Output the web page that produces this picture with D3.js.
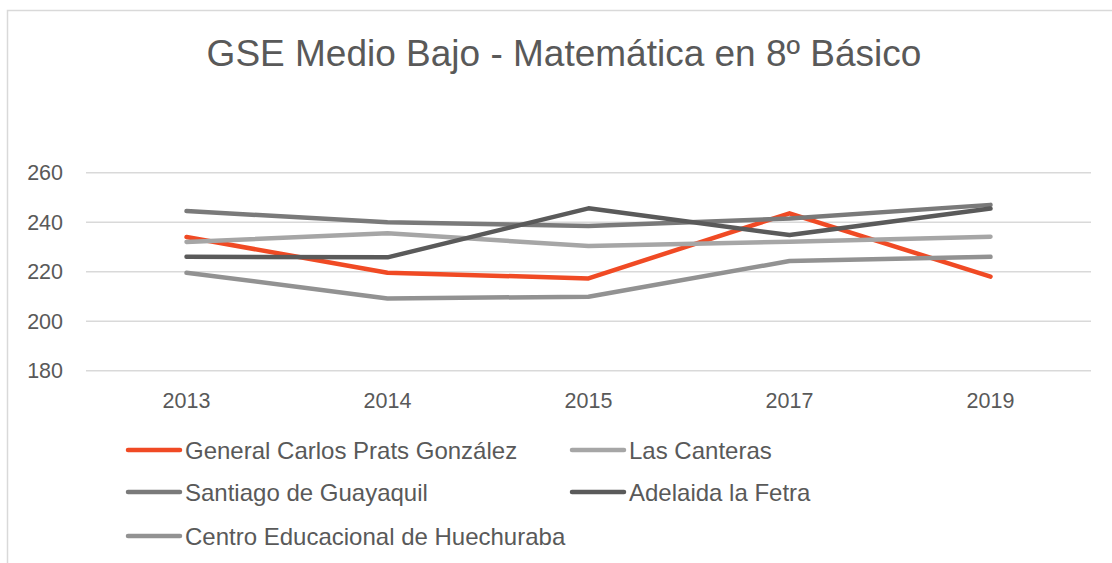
<!DOCTYPE html>
<html><head><meta charset="utf-8">
<script src="https://cdn.jsdelivr.net/npm/d3@7"></script>
<style>body{margin:0;background:#fff}svg{display:block}text{font-family:"Liberation Sans",Arial,sans-serif;fill:#595959}</style>
</head><body>
<svg id="c" width="1112" height="563"></svg>
<script>
const categories = ["2013","2014","2015","2017","2019"];
const seriesNames = ["General Carlos Prats González","Las Canteras","Santiago de Guayaquil","Adelaida la Fetra","Centro Educacional de Huechuraba"];
const generalCarlos = [234, 219.6, 217.3, 243.6, 218];
const lasCanteras = [232, 235.5, 230.4, 232.1, 234.1];
const santiago = [244.5, 240, 238.5, 241.5, 247];
const adelaida = [226, 225.8, 245.6, 234.8, 245.5];
const centro = [219.6, 209.2, 209.9, 224.3, 226];
const yTicks = [180, 200, 220, 240, 260];
const colors = ["#F04A24", "#A6A6A6", "#7A7A7A", "#5A5A5A", "#929292"];
const series = [generalCarlos, lasCanteras, santiago, adelaida, centro];

const svg = d3.select("#c");
svg.append("rect").attr("x",7.5).attr("y",10.5).attr("width",1120).attr("height",600)
  .attr("fill","#fff").attr("stroke","#d9d9d9").attr("stroke-width",1.5);

svg.append("text").attr("x",564).attr("y",66).attr("text-anchor","middle")
  .attr("font-size",37).text("GSE Medio Bajo - Matemática en 8º Básico");

const x = d3.scaleBand().domain(categories).range([86, 1091]);
const y = d3.scaleLinear().domain([180, 260]).range([370.7, 172.7]);

const grid = svg.append("g");
grid.selectAll("line").data(yTicks).join("line")
  .attr("x1",86).attr("x2",1091).attr("y1",d=>y(d)).attr("y2",d=>y(d))
  .attr("stroke","#d9d9d9").attr("stroke-width",1.5);

const yAxis = svg.append("g").attr("transform","translate(86,0)")
  .call(d3.axisLeft(y).tickValues(yTicks).tickSize(0).tickPadding(23));
yAxis.select(".domain").remove();
yAxis.selectAll("text").attr("font-size",21.5).attr("fill","#595959").style("font-family",'"Liberation Sans",Arial,sans-serif');

const xAxis = svg.append("g").attr("transform","translate(0,370.7)")
  .call(d3.axisBottom(x).tickSize(0).tickPadding(22));
xAxis.select(".domain").remove();
xAxis.selectAll("text").attr("font-size",21.5).attr("fill","#595959").style("font-family",'"Liberation Sans",Arial,sans-serif');

const line = d3.line().x((d,i)=>x(categories[i]) + x.bandwidth()/2).y(d=>y(d));
svg.append("g").selectAll("path").data(series).join("path")
  .attr("d", d=>line(d)).attr("fill","none")
  .attr("stroke",(d,i)=>colors[i]).attr("stroke-width",4.5)
  .attr("stroke-linecap","round").attr("stroke-linejoin","round");

const legendPos = [[128,450],[572,450],[128,492],[572,492],[128,536]];
const lg = svg.append("g").selectAll("g").data(seriesNames).join("g")
  .attr("transform",(d,i)=>`translate(${legendPos[i][0]},${legendPos[i][1]})`);
lg.append("line").attr("x1",0).attr("x2",52).attr("y1",0).attr("y2",0)
  .attr("stroke",(d,i)=>colors[i]).attr("stroke-width",4.5).attr("stroke-linecap","round");
lg.append("text").attr("x",57).attr("y",8.5).attr("font-size",24).text(d=>d);
</script>
</body></html>
